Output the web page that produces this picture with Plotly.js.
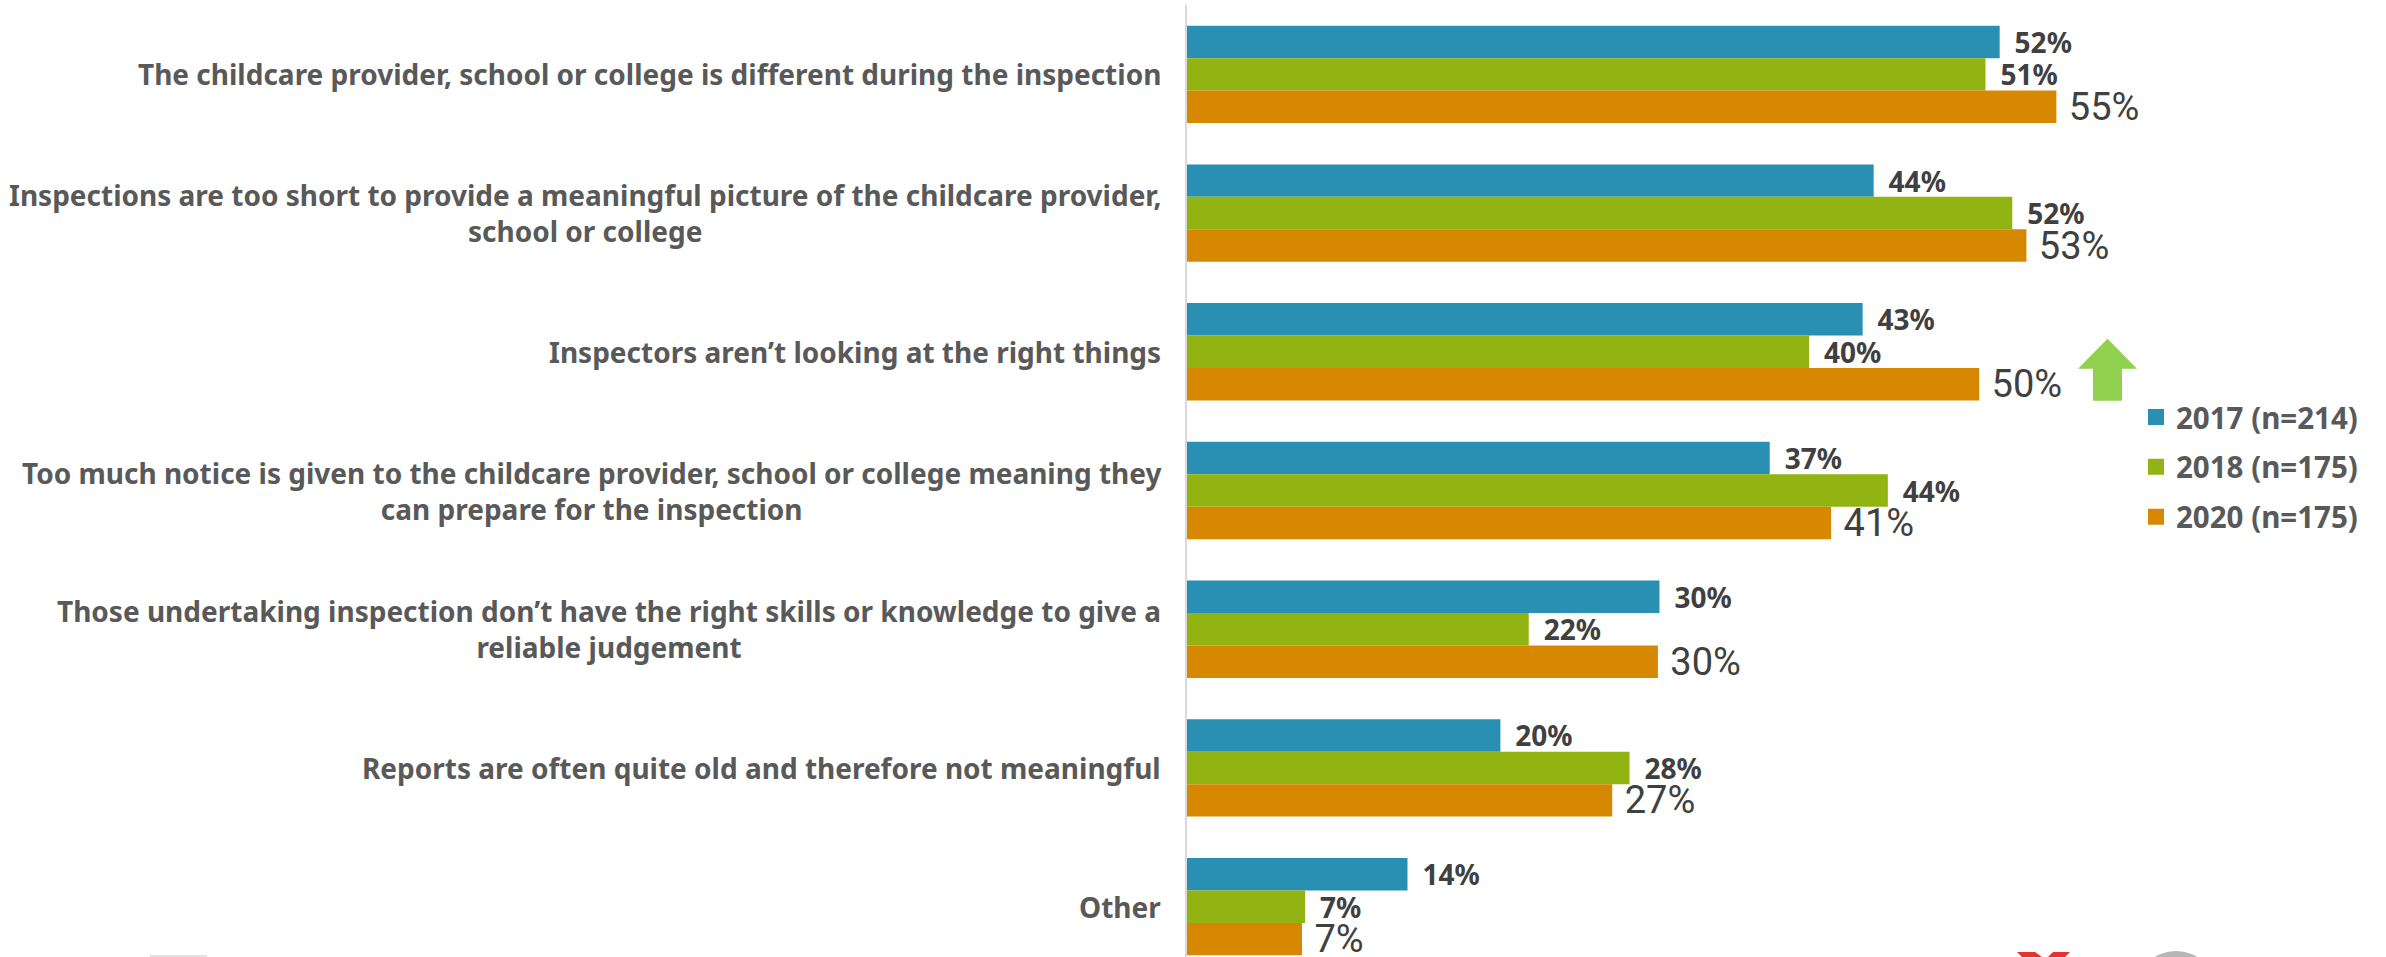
<!DOCTYPE html>
<html><head><meta charset="utf-8"><script src="https://cdn.plot.ly/plotly-3.0.1.min.js"></script>
<style>html,body{margin:0;padding:0;background:#fff}#c{width:2386px;height:957px}</style></head>
<body><div id="c"></div>
<script>
const categories=[
"The childcare provider, school or college is different during the inspection",
"Inspections are too short to provide a meaningful picture of the childcare provider,<br>school or college",
"Inspectors aren’t looking at the right things",
"Too much notice is given to the childcare provider, school or college meaning they<br>can prepare for the inspection",
"Those undertaking inspection don’t have the right skills or knowledge to give a<br>reliable judgement",
"Reports are often quite old and therefore not meaningful",
"Other"];
const seriesNames=["2017 (n=214)","2018 (n=175)","2020 (n=175)"];
const v2017=[51.6,43.6,42.9,37.0,30.0,19.9,14.0];
const v2018=[50.7,52.4,39.5,44.5,21.7,28.1,7.5];
const v2020=[55.2,53.3,50.3,40.9,29.9,27.0,7.3];
const l2017=[52,44,43,37,30,20,14];
const l2018=[51,52,40,44,22,28,7];
const l2020=[55,53,50,41,30,27,7];
const colors=["#2A90B3","#92B412","#D68800"];
const F='"Noto Sans",sans-serif';
const N='Roboto,"Noto Sans",sans-serif';
const idx=categories.map((_,i)=>i);
function tr(n,v,l,c,fam,size,weight,pad){return {type:'bar',orientation:'h',name:n,y:idx,x:v,
 text:l.map(t=>pad+t+'%'),textposition:'outside',cliponaxis:false,constraintext:'none',
 textfont:{family:fam,size:size,color:'#404040',weight:weight},marker:{color:c},legendgroup:n,hoverinfo:'skip'};}
const data=[tr(seriesNames[0],v2017,l2017,colors[0],F,28,700,'\u00a0\u2009'),
 tr(seriesNames[1],v2018,l2018,colors[1],F,28,700,'\u00a0\u2009'),
 tr(seriesNames[2],v2020,l2020,colors[2],N,38,400,'\u00a0')];
const W=2386,H=957,L=1187,T=5.3;
const px=(x,y)=>[(x-L)/(W-L),(H-y)/(H-T)];
const poly=a=>'M'+a.map(p=>px(p[0],p[1]).join(',')).join('L')+'Z';
const arrow=[[2078,369],[2107.5,339],[2137,369],[2122,369],[2122,401],[2093,401],[2093,369]];
const shp=(a,c)=>({type:'path',xref:'paper',yref:'paper',path:poly(a),fillcolor:c,line:{width:0}});
const [cx0,cy1]=px(2136,951),[cx1,cy0]=px(2216,1031);
const layout={width:W,height:H,margin:{l:L,r:0,t:T,b:0},paper_bgcolor:'#fff',plot_bgcolor:'#fff',
 barmode:'group',bargap:0.298,bargroupgap:0,
 xaxis:{range:[0,76.13],showgrid:false,zeroline:false,showticklabels:false,ticks:'',showline:false,fixedrange:true},
 yaxis:{range:[6.363,-0.5],tickmode:'array',tickvals:idx,ticktext:idx.map(()=>''),showgrid:false,zeroline:false,ticks:'',showline:true,linecolor:'#D9D9D9',linewidth:2,fixedrange:true},
 legend:{x:(2136-L)/(W-L),y:(H-391.5)/(H-T),xanchor:'left',yanchor:'top',traceorder:'grouped',tracegroupgap:8.5,font:{family:F,size:29.5,color:'#595959',weight:700},bgcolor:'rgba(0,0,0,0)',itemclick:false,itemdoubleclick:false},
 annotations:categories.map((c,i)=>({xref:'paper',yref:'y',x:-(24.5/(W-L)),y:i,text:c,showarrow:false,xanchor:'right',yanchor:'middle',align:'center',
   font:{family:F,size:28,color:'#595959',weight:700}})),
 shapes:[shp(arrow,'#92D050'),
  shp([[2017,952],[2035,952],[2042,957],[2022,957]],'#E5352B'),
  shp([[2053,952],[2070,952],[2065,957],[2048,957]],'#E5352B'),
  {type:'circle',xref:'paper',yref:'paper',x0:cx0,x1:cx1,y0:cy0,y1:cy1,fillcolor:'#B5B5B5',line:{width:0}},
  shp([[150,955],[207,955],[207,957],[150,957]],'#E3E3E3')],
 showlegend:true};
Plotly.newPlot('c',data,layout,{displayModeBar:false}).then(()=>{
 document.querySelectorAll('.legend .legendbar path, .legend .legendpoints path').forEach(p=>p.setAttribute('d','M8,8H-8V-8H8Z'));
});
</script></body></html>
